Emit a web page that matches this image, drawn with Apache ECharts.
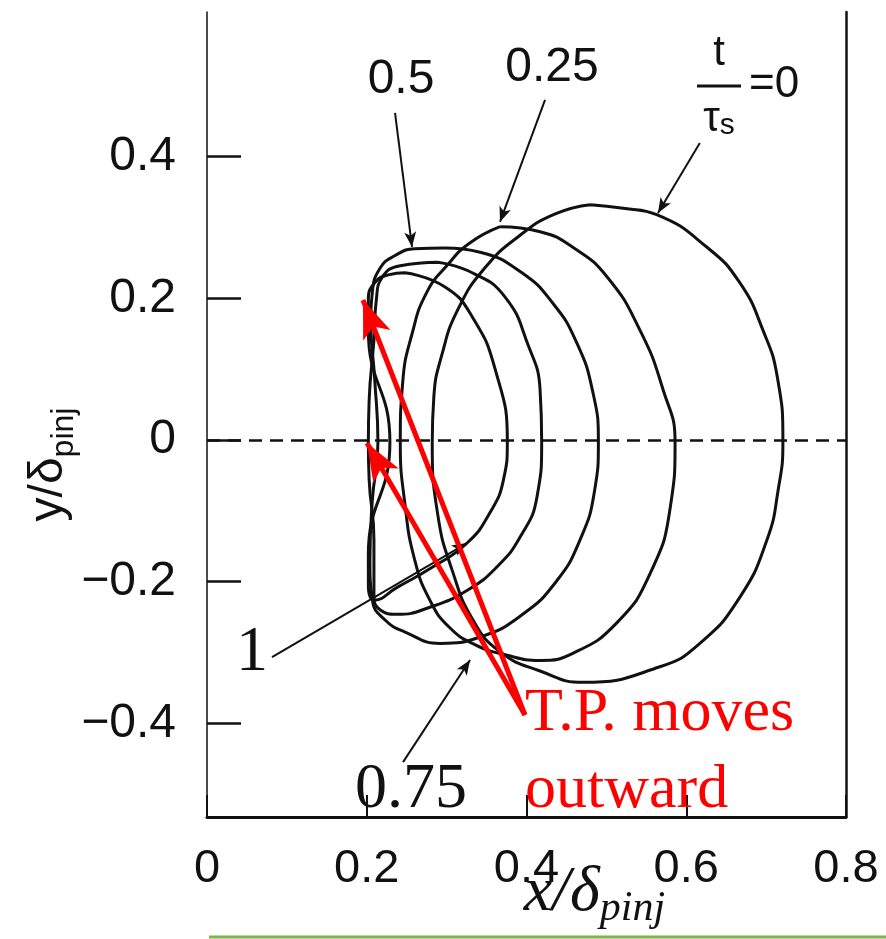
<!DOCTYPE html>
<html lang="en">
<head>
<meta charset="UTF-8">
<title>T.P. moves outward</title>
<script src="https://cdn.jsdelivr.net/npm/echarts@6/dist/echarts.min.js"></script>
<style>
  html, body { margin: 0; padding: 0; background: #fff; }
  #main { width: 886px; height: 939px; }
</style>
</head>
<body>
<div id="main"></div>
<script>
// contours, [x/δ, y/δ] going round clockwise from the top
var times = ['0', '0.25', '0.5', '0.75', '1'];
var c0 = [[0.480,0.332],[0.521,0.327],[0.563,0.318],[0.626,0.272],[0.667,0.222],[0.696,0.155],[0.714,0.089],[0.721,-0.003],
  [0.715,-0.071],[0.701,-0.141],[0.667,-0.222],[0.617,-0.287],[0.567,-0.320],[0.471,-0.342],[0.417,-0.326],
  [0.367,-0.299],[0.333,-0.254],[0.307,-0.184],[0.289,-0.106],[0.282,-0.003],[0.284,0.061],[0.294,0.120],
  [0.314,0.184],[0.348,0.243],[0.392,0.289],[0.436,0.319],[0.480,0.332]];
var c25 = [[0.367,0.301],[0.417,0.294],[0.458,0.272],[0.501,0.230],[0.542,0.155],[0.571,0.071],[0.586,-0.003],
  [0.580,-0.095],[0.555,-0.188],[0.513,-0.258],[0.458,-0.301],[0.417,-0.311],[0.373,-0.303],[0.336,-0.289],
  [0.304,-0.265],[0.279,-0.226],[0.260,-0.169],[0.248,-0.092],[0.242,-0.003],[0.245,0.081],[0.257,0.151],
  [0.275,0.208],[0.301,0.247],[0.329,0.278],[0.367,0.301]];
var c50 = [[0.298,0.271],[0.342,0.265],[0.393,0.237],[0.433,0.193],[0.463,0.137],[0.483,0.068],[0.490,-0.003],
  [0.485,-0.073],[0.467,-0.141],[0.437,-0.200],[0.394,-0.247],[0.342,-0.278],[0.292,-0.287],[0.248,-0.271],
  [0.223,-0.254],[0.207,-0.226],[0.204,-0.169],[0.207,-0.085],[0.214,-0.003],[0.210,0.085],[0.205,0.169],
  [0.207,0.209],[0.217,0.243],[0.235,0.260],[0.260,0.270],[0.298,0.271]];
var c75 = [[0.289,0.251],[0.332,0.236],[0.373,0.202],[0.402,0.134],[0.417,0.071],[0.419,-0.003],[0.413,-0.081],
  [0.392,-0.137],[0.363,-0.179],[0.326,-0.212],[0.279,-0.236],[0.238,-0.246],[0.217,-0.240],[0.209,-0.219],
  [0.209,-0.141],[0.203,-0.056],[0.202,-0.003],[0.203,0.056],[0.209,0.141],[0.212,0.198],[0.219,0.229],
  [0.242,0.246],[0.289,0.251]];
var c100 = [[0.248,0.236],[0.298,0.216],[0.332,0.174],[0.361,0.099],[0.376,-0.003],[0.371,-0.057],[0.354,-0.103],
  [0.326,-0.145],[0.283,-0.179],[0.238,-0.208],[0.210,-0.226],[0.202,-0.205],[0.202,-0.162],[0.229,-0.003],
  [0.202,0.155],[0.202,0.198],[0.210,0.222],[0.227,0.233],[0.248,0.236]];
var curves = [c0, c25, c50, c75, c100];

var xTicks = [0, 0.2, 0.4, 0.6, 0.8];
var yTicks = [-0.4, -0.2, 0, 0.2, 0.4];

// black pointers from the time labels, [x1, y1, x2, y2]
var pointers = [[0.2354,0.4615,0.2567,0.2724],[0.4232,0.4799,0.3668,0.3077],[0.6170,0.4192,0.5646,0.3204],
  [0.2454,-0.4545,0.3293,-0.3105],[0.0814,-0.3063,0.3255,-0.1454]];
// red turning point arrows
var tpArrows = [[0.3981,-0.3881,0.1953,0.1976],[0.3981,-0.3881,0.2003,-0.0042]];
// text notes: [x, y, text, kind]
var notes = [[0.2429,0.5081,'0.5','sans'],[0.4319,0.5250,'0.25','sans'],
  [0.6410,0.4996,'{t|t}\n{bar| }\n{tau|τ}{s|s}','frac'],[0.7100,0.5011,'=0','eq'],
  [0.0563,-0.3006,'1','serif'],[0.2554,-0.4940,'0.75','serif'],
  [0.3981,-0.4410,'T.P. moves\noutward','red']];

var sans = '"Liberation Sans", Arial, Helvetica, sans-serif';
var serif = '"Liberation Serif", "Times New Roman", serif';
var ink = '#111';

function tickText(v) {
  if (v === 0) return '0';
  return (v < 0 ? '\u2212' : '') + Math.abs(v).toFixed(1);
}

function noteLabel(text, kind) {
  var l = { show: true, position: 'inside', formatter: text, color: ink, align: 'center', verticalAlign: 'middle' };
  if (kind === 'sans') { l.fontFamily = sans; l.fontSize = 48; }
  if (kind === 'eq') { l.fontFamily = sans; l.fontSize = 44; }
  if (kind === 'serif') { l.fontFamily = serif; l.fontSize = 64; }
  if (kind === 'red') {
    l.fontFamily = serif; l.fontSize = 62; l.lineHeight = 77; l.color = '#ff0000'; l.align = 'left';
  }
  if (kind === 'frac') {
    l.rich = {
      t: { fontFamily: sans, fontSize: 42, lineHeight: 46, color: ink },
      bar: { width: 44, height: 3, lineHeight: 20, backgroundColor: ink },
      tau: { fontFamily: sans, fontSize: 42, lineHeight: 46, color: ink },
      s: { fontFamily: sans, fontSize: 30, lineHeight: 46, padding: [14, 0, 0, 0], color: ink }
    };
  }
  return l;
}

var series = curves.map(function (pts, i) {
  return {
    type: 'line', name: 't/τs=' + times[i], data: pts, smooth: 0.5,
    showSymbol: false, symbol: 'none', lineStyle: { color: ink, width: 3 }, z: 3
  };
});

series.push({
  type: 'line', data: [], z: 2,
  markLine: {
    silent: true, symbol: ['none', 'none'], label: { show: false },
    lineStyle: { color: ink, width: 2.5, type: [13, 8] },
    data: [{ yAxis: 0 }]
  }
});

series.push({
  type: 'line', data: [], z: 4,
  markLine: {
    silent: true, symbol: ['none', 'arrow'], symbolSize: [9, 15], label: { show: false },
    lineStyle: { color: ink, width: 2, type: 'solid' },
    data: pointers.map(function (p) { return [{ coord: [p[0], p[1]] }, { coord: [p[2], p[3]] }]; })
  }
});

series.push({
  type: 'line', data: [], z: 10,
  markLine: {
    silent: true, symbol: ['none', 'arrow'], symbolSize: [22, 38], label: { show: false },
    lineStyle: { color: '#ff0000', width: 5, type: 'solid' },
    data: tpArrows.map(function (p) { return [{ coord: [p[0], p[1]] }, { coord: [p[2], p[3]] }]; })
  }
});

series.push({
  type: 'scatter', symbolSize: 1, itemStyle: { color: 'rgba(0,0,0,0)', opacity: 1 }, z: 11, silent: true,
  data: notes.map(function (n) {
    return { value: [n[0], n[1]], label: noteLabel(n[2], n[3]) };
  })
});

var chart = echarts.init(document.getElementById('main'));
chart.setOption({
  animation: false,
  backgroundColor: '#fff',
  grid: { left: 207, right: 40, top: 12, bottom: 122, containLabel: false, outerBoundsMode: 'none' },
  xAxis: {
    type: 'value', min: 0, max: 0.8, interval: 0.2,
    axisLine: { onZero: false, lineStyle: { color: ink, width: 3 } },
    axisTick: { inside: true, length: 22, lineStyle: { color: ink, width: 2 } },
    axisLabel: { margin: 29, fontSize: 47, fontFamily: sans, color: ink, formatter: tickText },
    splitLine: { show: false },
    name: '{m|x/δ}{s|pinj}', nameLocation: 'middle', nameGap: 39, nameMoveOverlap: false,
    nameTextStyle: {
      padding: [0, 0, 0, 136],
      rich: {
        m: { fontFamily: serif, fontStyle: 'italic', fontSize: 64, color: ink },
        s: { fontFamily: serif, fontStyle: 'italic', fontSize: 42, padding: [32, 0, 0, 0], color: ink }
      }
    }
  },
  yAxis: [{
    type: 'value', min: -0.532, max: 0.604, position: 'left',
    axisLine: { show: true, onZero: false, lineStyle: { color: ink, width: 1.5 } },
    axisTick: { show: true, inside: true, length: 34, customValues: yTicks, lineStyle: { color: ink, width: 2.5 } },
    axisLabel: { customValues: yTicks, margin: 31, fontSize: 48, fontFamily: sans, color: ink, formatter: tickText },
    splitLine: { show: false },
    name: '{m|y/δ}{s|pinj}', nameLocation: 'middle', nameRotate: 90, nameGap: 127, nameMoveOverlap: false,
    nameTextStyle: {
      padding: [0, 100, 0, 0],
      rich: {
        m: { fontFamily: sans, fontSize: 48, color: ink },
        s: { fontFamily: sans, fontSize: 32, padding: [30, 0, 0, 0], color: ink }
      }
    }
  }, {
    type: 'value', min: -0.532, max: 0.604, position: 'right',
    axisLine: { show: true, onZero: false, lineStyle: { color: ink, width: 2.5 } },
    axisTick: { show: false }, axisLabel: { show: false }, splitLine: { show: false }
  }],
  graphic: [{
    type: 'line', shape: { x1: 209, y1: 937, x2: 886, y2: 937 },
    style: { stroke: '#79b943', lineWidth: 3 }
  }],
  series: series
});
</script>
</body>
</html>
